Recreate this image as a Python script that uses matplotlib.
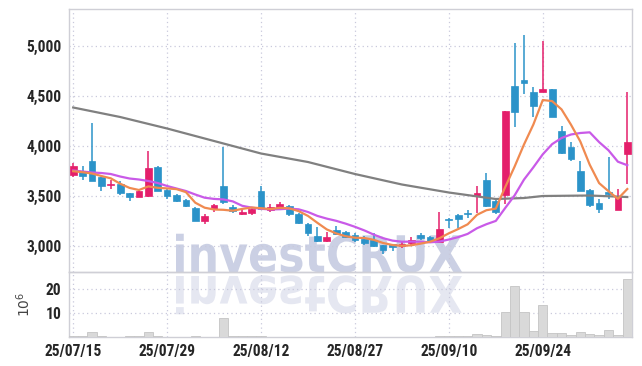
import matplotlib
matplotlib.use('Agg')
import matplotlib.pyplot as plt
import numpy as np
from matplotlib.textpath import TextPath
from matplotlib.patches import PathPatch
from matplotlib.font_manager import FontProperties
from matplotlib.transforms import Affine2D, IdentityTransform
from matplotlib.ticker import FuncFormatter

# daily OHLC (KRW)
opens = [3710, 3745, 3855, 3690, 3615, 3620, 3530, 3495, 3500, 3795,
         3565, 3515, 3465, 3385, 3255, 3375, 3605, 3395, 3325, 3335,
         3550, 3365, 3385, 3405, 3325, 3225, 3100, 3055, 3160, 3145,
         3115, 3075, 3065, 3010, 3020, 3000, 3035, 3110, 3095, 3045,
         3275, 3310, 3335, 3500, 3665, 3455, 3515, 4600, 4660, 4545,
         4545, 4570, 4155, 3990, 3755, 3565, 3430, 3545, 3365, 3925]
highs = [3830, 3800, 4230, 3695, 3665, 3650, 3535, 3565, 3955, 3800,
         3570, 3520, 3470, 3390, 3320, 3425, 3995, 3410, 3385, 3395,
         3600, 3420, 3440, 3415, 3330, 3230, 3190, 3140, 3200, 3150,
         3130, 3100, 3135, 3015, 3025, 3040, 3095, 3135, 3100, 3345,
         3285, 3320, 3360, 3605, 3735, 3460, 4350, 5030, 5110, 4590,
         5055, 4575, 4205, 4040, 3855, 3570, 3475, 3895, 3575, 4545]
lows = [3690, 3665, 3650, 3555, 3570, 3515, 3450, 3490, 3495, 3550,
        3475, 3445, 3395, 3250, 3225, 3340, 3420, 3330, 3310, 3310,
        3360, 3340, 3370, 3300, 3225, 3100, 3045, 3045, 3110, 3080,
        3040, 3010, 2990, 2925, 2955, 2985, 3010, 3060, 3050, 3040,
        3180, 3180, 3285, 3330, 3390, 3320, 3420, 4195, 4520, 4290,
        4540, 4290, 3920, 3850, 3550, 3390, 3330, 3470, 3365, 3625]
closes = [3800, 3700, 3655, 3605, 3625, 3530, 3490, 3550, 3785, 3555,
          3500, 3455, 3400, 3255, 3305, 3410, 3440, 3355, 3345, 3375,
          3375, 3395, 3420, 3320, 3235, 3135, 3050, 3090, 3120, 3095,
          3060, 3035, 3000, 2960, 2995, 3020, 3060, 3085, 3055, 3170,
          3265, 3275, 3320, 3530, 3400, 3345, 4350, 4345, 4635, 4400,
          4570, 4295, 3930, 3875, 3555, 3410, 3375, 3525, 3495, 4045]

# volume, millions of shares
volumes = [0.3, 0.3, 2.0, 0.4, 0.2, 0.2, 0.3, 0.4, 2.0, 0.5,
           0.2, 0.2, 0.2, 0.5, 0.2, 0.2, 7.8, 0.4, 0.3, 0.3,
           0.6, 0.2, 0.2, 0.2, 0.2, 0.2, 0.2, 0.2, 0.2, 0.2,
           0.2, 0.2, 0.2, 0.2, 0.2, 0.2, 0.2, 0.2, 0.2, 0.5,
           0.3, 0.3, 0.5, 1.2, 0.8, 0.3, 10.5, 21.2, 10.5, 2.5,
           13.2, 1.5, 1.5, 0.8, 2.2, 1.2, 0.8, 2.8, 0.8, 24.4]

# moving averages
ma5 = [3748, 3738, 3725, 3700, 3677, 3623, 3581, 3560, 3596, 3582,
       3576, 3569, 3539, 3433, 3383, 3365, 3362, 3353, 3371, 3385,
       3378, 3369, 3382, 3377, 3349, 3301, 3232, 3166, 3126, 3098,
       3083, 3080, 3062, 3030, 3010, 3002, 3007, 3024, 3043, 3078,
       3127, 3170, 3217, 3312, 3358, 3374, 3589, 3794, 4015, 4215,
       4460, 4449, 4366, 4214, 4045, 3813, 3629, 3548, 3472, 3570]
ma10 = [3755, 3745, 3735, 3730, 3720, 3695, 3675, 3665, 3650, 3630,
        3600, 3575, 3550, 3515, 3483, 3471, 3466, 3446, 3402, 3384,
        3372, 3366, 3368, 3374, 3367, 3340, 3301, 3274, 3252, 3224,
        3192, 3156, 3114, 3078, 3054, 3043, 3044, 3043, 3037, 3044,
        3065, 3089, 3121, 3178, 3218, 3251, 3380, 3506, 3664, 3787,
        3917, 4019, 4080, 4115, 4130, 4137, 4039, 3957, 3843, 3808]
ma_long_idx = [0, 5, 10, 15, 20, 25, 30, 35, 40, 45, 48, 50, 55, 59]
ma_long = [4385, 4290, 4175, 4050, 3925, 3840, 3720, 3615, 3535, 3470,
           3480, 3500, 3505, 3490]

tick_pos = [0, 10, 20, 30, 40, 50]
tick_labels = ['25/07/15', '25/07/29', '25/08/12', '25/08/27', '25/09/10', '25/09/24']

UP = '#e41f6b'
DOWN = '#2b93c9'
GRID = '#c9c9dc'
SPINE = '#cfcfd6'
TXT = '#262626'
font = ['Roboto Condensed', 'DejaVu Sans']

fig = plt.figure(figsize=(6.42, 3.66), dpi=100)
ax = fig.add_axes([0.1067, 0.2568, 0.8777, 0.7186])
axv = fig.add_axes([0.1067, 0.0792, 0.8777, 0.1776], sharex=ax)

# watermark with reflection
fp = FontProperties(family='DejaVu Sans', weight='bold')
tp = TextPath((0, 0), 'investCRUX', size=1, prop=fp)
ext = tp.get_extents()
x0, x1 = 176, 462
H = 366
sx = (x1 - x0) / ext.width
sy = 39 / ext.height
top = Affine2D().translate(-ext.x0, 0).scale(sx, sy).translate(x0, H - 272)
bot = Affine2D().translate(-ext.x0, 0).scale(sx, -sy).translate(x0, H - 276)
for tr, col in [(top, '#cbd0e4'), (bot, '#e5e7f1')]:
    p = PathPatch(tr.transform_path(tp), facecolor=col, edgecolor='none',
                  transform=IdentityTransform(), zorder=-1)
    fig.add_artist(p)

x = np.arange(len(closes))
o = np.array(opens)
c = np.array(closes)
cols = [UP if cc >= oo else DOWN for oo, cc in zip(o, c)]

ax.vlines(x, lows, highs, colors=cols, linewidth=1.1, zorder=3)
ax.bar(x, np.maximum(np.abs(c - o), 8), bottom=np.minimum(o, c), width=0.72,
       color=cols, edgecolor=cols, linewidth=0.5, zorder=4)

ax.plot(ma_long_idx, ma_long, color='#808080', lw=1.6, zorder=5)
ax.plot(x, ma10, color='#c95ae8', lw=1.6, zorder=5)
ax.plot(x, ma5, color='#f08a50', lw=1.6, zorder=5)

axv.bar(x, volumes, width=1.0, color='#d9d9d9', edgecolor='#c4c4c4', linewidth=0.6, zorder=3)

ax.set_xlim(-0.5, 59.5)
ax.set_ylim(2740, 5370)
axv.set_ylim(0, 27.2)
ax.set_yticks([3000, 3500, 4000, 4500, 5000])
ax.yaxis.set_major_formatter(FuncFormatter(lambda v, p: '{:,.0f}'.format(v)))
axv.set_yticks([10, 20])
axv.set_xticks(tick_pos)
axv.set_xticklabels(tick_labels)
ax.tick_params(axis='x', labelbottom=False)

for a in (ax, axv):
    a.set_facecolor('none')
    a.grid(True, linestyle=(0, (1, 2.5)), color=GRID, linewidth=0.9, zorder=0)
    a.set_axisbelow(True)
    a.tick_params(length=0, pad=5, colors=TXT, labelsize=11.2)
    for lab in a.get_xticklabels() + a.get_yticklabels():
        lab.set_family(font)
        lab.set_weight('bold')
    for s in a.spines.values():
        s.set_color(SPINE)
        s.set_linewidth(1.0)

axv.set_ylabel(r'$10^6$', fontsize=10, color='#444444')
axv.yaxis.set_label_coords(-0.063, 0.5)

fig.savefig('out.png', dpi=100)
